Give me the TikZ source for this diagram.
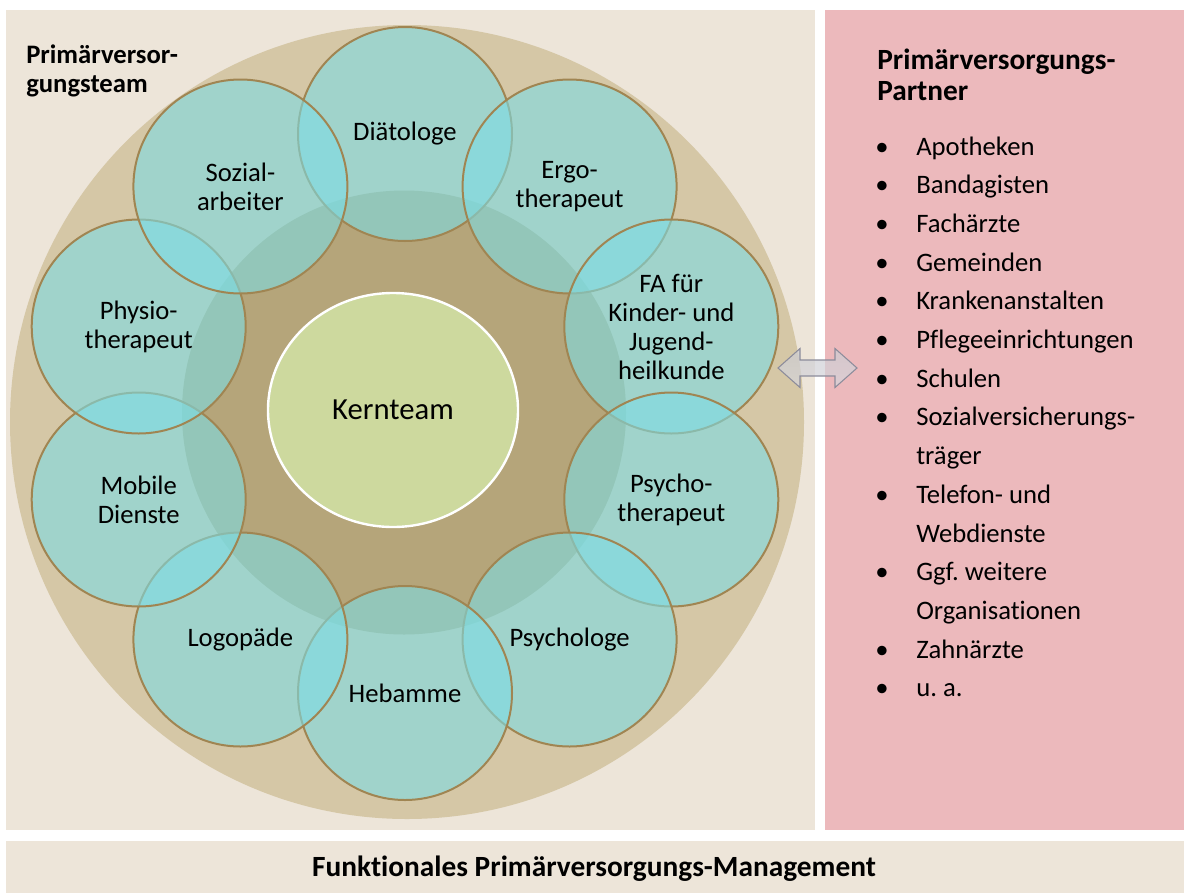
\documentclass[tikz,border=0pt]{standalone}
\usepackage{fontspec}
\setmainfont{Carlito}[Ligatures={NoCommon,NoContextual}]
\usetikzlibrary{shapes.geometric}
\definecolor{bgbeige}{RGB}{237,229,217}
\definecolor{ringtan}{RGB}{213,199,166}
\definecolor{innerdark}{RGB}{181,165,122}
\definecolor{tealc}{RGB}{125,220,228}
\definecolor{rimbrown}{RGB}{160,133,82}
\definecolor{kerngreen}{RGB}{205,217,158}
\definecolor{partnerpink}{RGB}{236,185,188}
\definecolor{arrowgray}{RGB}{140,140,155}
\frenchspacing
\begin{document}
\begin{tikzpicture}[x=0.75pt,y=-0.75pt,
  member/.style={circle, draw=rimbrown, line width=1.5pt, fill=tealc, fill opacity=0.6, text opacity=1,
    minimum size=160.5pt, inner sep=0pt, align=center, font=\fontsize{20}{21.75}\selectfont},
  kern/.style={ellipse, draw=white, line width=1.8pt, fill=kerngreen, minimum width=187.5pt,
    minimum height=175.5pt, inner sep=0pt, font=\fontsize{23}{27}\selectfont},
  headtxt/.style={inner sep=0pt, anchor=base west, font=\fontsize{20}{24}\selectfont\bfseries},
  parthead/.style={inner sep=0pt, anchor=base west, font=\fontsize{22}{26}\selectfont\bfseries},
  listtxt/.style={inner sep=0pt, anchor=base west, font=\fontsize{20}{24}\selectfont},
  bul/.style={inner sep=0pt, anchor=base, font=\fontsize{20}{24}\selectfont},
  bartxt/.style={inner sep=0pt, anchor=base, font=\fontsize{22}{26}\selectfont\bfseries}
]
\useasboundingbox (0,0) rectangle (1184,893);
\fill[white] (0,0) rectangle (1184,893);
% panels
\fill[bgbeige] (6,10) rectangle (815,830);
\fill[partnerpink] (825,10) rectangle (1184,830);
\fill[bgbeige] (6,841) rectangle (1184,893);
% rings
\fill[ringtan] (407,422) circle[radius=297.75pt];
\fill[innerdark] (404,412.5) circle[radius=166.5pt];
% members
\node[member] (diaet) at (405,134) {Diätologe};
\node[member] (ergo) at (569.6,186.5) {Ergo-\\therapeut};
\node[member] (fa) at (671.3,326.5) {FA für\\Kinder- und\\Jugend-\\heilkunde};
\node[member] (psyth) at (671.3,499.5) {Psycho-\\therapeut};
\node[member] (psyol) at (569.6,639.5) {Psychologe};
\node[member] (heb) at (405,693) {Hebamme};
\node[member] (logo) at (240.4,639.5) {Logopäde};
\node[member] (mobil) at (138.7,499.5) {Mobile\\Dienste};
\node[member] (physio) at (138.7,326.5) {Physio-\\therapeut};
\node[member] (sozial) at (240.4,186.5) {Sozial-\\arbeiter};
% core
\node[kern] (kern) at (393,410) {Kernteam};
% titles
\node[headtxt] (t1) at (26,63) {Primärversor-};
\node[headtxt] (t2) at (26,92) {gungsteam};
\node[parthead] (p1) at (877,69) {Primärversorgungs-};
\node[parthead] (p2) at (877,100) {Partner};
% list
\foreach \i/\yy/\txt/\b in {1/155/Apotheken/1, 2/193.7/Bandagisten/1, 3/232.4/Fachärzte/1,
  4/271.1/Gemeinden/1, 5/309.8/Krankenanstalten/1, 6/348.5/Pflegeeinrichtungen/1,
  7/387.2/Schulen/1, 8/425.9/Sozialversicherungs-/1, 9/464.6/träger/0,
  10/503.3/Telefon- und/1, 11/542/Webdienste/0, 12/580.7/Ggf. weitere/1,
  13/619.4/Organisationen/0, 14/658.1/Zahnärzte/1, 15/696.8/u. a./1}{
  \node[listtxt] (item\i) at (916,\yy) {\txt};
  \ifnum\b=1 \node[bul] (bul\i) at (882,\yy) {•}; \fi
}
% bottom bar
\node[bartxt] (bar) at (594,876) {Funktionales Primärversorgungs-Management};
% double arrow
\path[draw=arrowgray, line width=0.8pt, fill opacity=0.7, top color=arrowgray!45, middle color=white, bottom color=arrowgray!35, line join=miter]
  (778,368) -- (800,348.5) -- (800,360) -- (835,360) -- (835,348.5) -- (857,368)
  -- (835,387.5) -- (835,376) -- (800,376) -- (800,387.5) -- cycle;
\end{tikzpicture}
\end{document}
